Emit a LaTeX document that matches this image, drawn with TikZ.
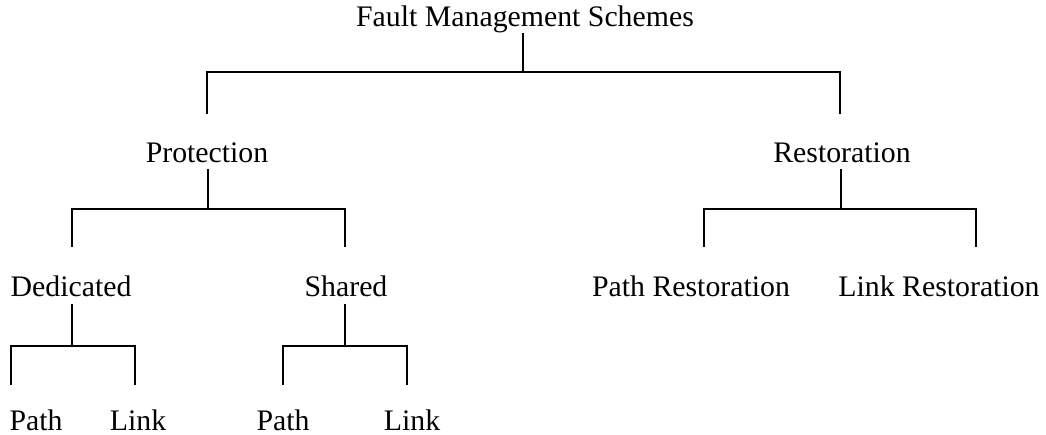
\documentclass[tikz,border=0pt]{standalone}
\usepackage{fontspec}
\setmainfont{Liberation Serif}
\begin{document}
\begin{tikzpicture}[x=1pt,y=-1pt,
  label/.style={inner sep=0pt,anchor=base,font=\fontsize{29.8}{32}\selectfont},
  branch/.style={line width=1.3pt,line cap=rect}]
\useasboundingbox (0,0) rectangle (1046,435);

% labels, placed on their baselines
\node[label] (fms)  at (525,27)  {Fault Management Schemes};
\node[label] (prot) at (207,163) {Protection};
\node[label] (rest) at (842,163) {Restoration};
\node[label] (ded)  at (71,297)  {Dedicated};
\node[label] (shar) at (346,297) {Shared};
\node[label] (prst) at (691,297) {Path Restoration};
\node[label] (lrst) at (939,297) {Link Restoration};
\node[label] (dpth) at (36,430)  {Path};
\node[label] (dlnk) at (138,430) {Link};
\node[label] (spth) at (283,430) {Path};
\node[label] (slnk) at (412,430) {Link};

% stem tops below each parent, junctions on the bars, drop ends above each child
\coordinate (fms-o)  at (523,34);  \coordinate (fms-j)  at (523,72);
\coordinate (prot-i) at (207,113); \coordinate (rest-i) at (840,113);
\coordinate (prot-o) at (208,170); \coordinate (prot-j) at (208,209);
\coordinate (rest-o) at (841,170); \coordinate (rest-j) at (841,209);
\coordinate (ded-i)  at (72,246);  \coordinate (shar-i) at (345,246);
\coordinate (prst-i) at (704,246); \coordinate (lrst-i) at (976,246);
\coordinate (ded-o)  at (72,305);  \coordinate (ded-j)  at (72,346);
\coordinate (shar-o) at (345,305); \coordinate (shar-j) at (345,346);
\coordinate (dpth-i) at (11,384);  \coordinate (dlnk-i) at (135,384);
\coordinate (spth-i) at (283,384); \coordinate (slnk-i) at (407,384);

% tree branches
\draw[branch] (fms-o) -- (fms-j);
\draw[branch] (prot-i) |- (fms-j) -| (rest-i);
\draw[branch] (prot-o) -- (prot-j);
\draw[branch] (ded-i) |- (prot-j) -| (shar-i);
\draw[branch] (rest-o) -- (rest-j);
\draw[branch] (prst-i) |- (rest-j) -| (lrst-i);
\draw[branch] (ded-o) -- (ded-j);
\draw[branch] (dpth-i) |- (ded-j) -| (dlnk-i);
\draw[branch] (shar-o) -- (shar-j);
\draw[branch] (spth-i) |- (shar-j) -| (slnk-i);
\end{tikzpicture}
\end{document}
